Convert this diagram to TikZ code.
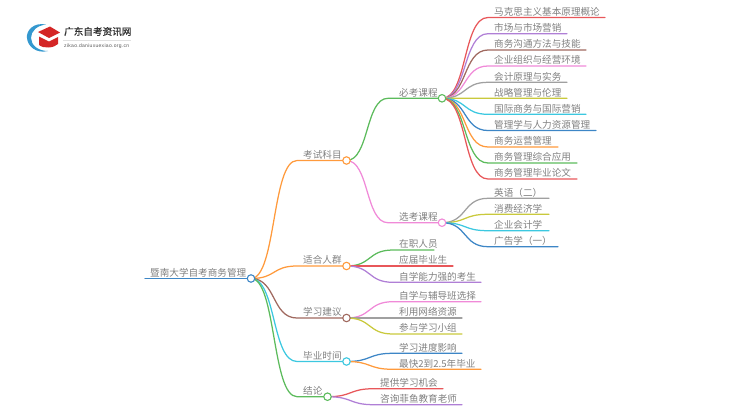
\documentclass[tikz,border=0pt]{standalone}
\usepackage{fontspec}
\setmainfont{Noto Sans CJK SC}
\newfontfamily\latinfont{Liberation Sans}
\usetikzlibrary{backgrounds,calc}
\definecolor{cRed}{HTML}{E8575A}
\definecolor{cPurple}{HTML}{B07FD6}
\definecolor{cBrown}{HTML}{A0695F}
\definecolor{cPink}{HTML}{F08AD8}
\definecolor{cGray}{HTML}{A0A0A0}
\definecolor{cOlive}{HTML}{C9C93C}
\definecolor{cCyan}{HTML}{3CC8E0}
\definecolor{cBlue}{HTML}{3D86C6}
\definecolor{cOrange}{HTML}{FF9A3C}
\definecolor{cGreen}{HTML}{5CBB5C}
\definecolor{cText}{HTML}{808080}
\tikzset{
  x=1pt,y=-1pt,
  label text/.style={text=cText,font=\fontsize{9.6pt}{11pt}\selectfont,inner sep=0pt,anchor=base west},
  junction/.style={circle,draw=#1,fill=white,line width=1.1pt,minimum size=7.5pt,inner sep=0pt},
  conn/.style={draw=#1,line width=1.25pt,line cap=round},
}
% #1 name, #2 parent, #3 curve end x, #4 line end x, #5 y, #6 colour, #7 text x, #8 text
\newcommand{\leafnode}[8]{%
  \node[label text] (#1) at (#7,#5-2.2) {#8};
  \coordinate (#1s) at (#3,#5);
  \coordinate (#1e) at (#4,#5);
  \begin{scope}[on background layer]
    \path[conn=#6] (#2.center) .. controls ($(#2.center)!0.55!(#2.center -| #1s)$) and ($(#1s)!0.55!(#1s -| #2.center)$) .. (#1s) -- (#1e);
  \end{scope}
}
\begin{document}
\begin{tikzpicture}
\useasboundingbox (0,0) rectangle (750,410);

% logo
\fill[cBlue!85!cyan] (46,24.5) .. controls (33,22) and (26,31) .. (27,38) .. controls (27.5,46) and (36,54) .. (48,51) .. controls (38,51) and (31,45) .. (31,38) .. controls (31,31) and (37,25.5) .. (46,24.5) -- cycle;
\fill[red!80!black!85] (38,32) -- (50,26.5) -- (60,32.5) -- (49,38) -- cycle;
\fill[red!80!black!85] (39,36.5) -- (49,41.5) -- (58,37) -- (58,44) .. controls (54,48) and (44,49) .. (39,45) -- cycle;
\node[inner sep=0pt,anchor=west,text=black!80,font=\fontsize{9.6pt}{11pt}\selectfont] (logotitle) at (64,31.5) {\addfontfeatures{FakeBold=1}广东自考资讯网};
\draw[black!12,line width=.5pt] (63,40.5) -- (131,40.5);
\node[inner sep=0pt,anchor=west,text=black!65,font=\latinfont\fontsize{5pt}{6pt}\selectfont] (logosub) at (64,46.5) {\addfontfeatures{LetterSpace=6}zikao.daniuxuexiao.org.cn};

% junctions
\node[junction=cBlue]   (root) at (251,278.5) {};
\node[junction=cOrange] (a1) at (346.5,160.5) {};
\node[junction=cOrange] (a2) at (346.5,266) {};
\node[junction=cBrown]  (a3) at (346.5,318) {};
\node[junction=cCyan]   (a4) at (346.5,361.5) {};
\node[junction=cGreen]  (a5) at (327.5,396.7) {};
\node[junction=cGreen]  (b1) at (442,98.3) {};
\node[junction=cPink]   (b2) at (442,222.7) {};

% root label
\node[label text] (rootlabel) at (150,276.3) {暨南大学自考商务管理};
\coordinate (rootstart) at (145,278.5);
\begin{scope}[on background layer]
  \draw[conn=cBlue] (rootstart) -- (root.center);
\end{scope}

% first level
\leafnode{t1}{root}{297}{346.5}{160.5}{cOrange}{303}{考试科目}
\leafnode{t2}{root}{297}{346.5}{266}{cOrange}{303}{适合人群}
\leafnode{t3}{root}{297}{346.5}{318}{cBrown}{303}{学习建议}
\leafnode{t4}{root}{297}{346.5}{361.5}{cCyan}{303}{毕业时间}
\leafnode{t5}{root}{297}{327.5}{396.7}{cGreen}{303}{结论}
\leafnode{s1}{a1}{388}{442}{98.3}{cGreen}{399}{必考课程}
\leafnode{s2}{a1}{388}{442}{222.7}{cPink}{399}{选考课程}

% required courses
\leafnode{m1}{b1}{488}{605}{17.5}{cRed}{494}{马克思主义基本原理概论}
\leafnode{m2}{b1}{488}{567}{33.7}{cPurple}{494}{市场与市场营销}
\leafnode{m3}{b1}{488}{586}{50}{cBrown}{494}{商务沟通方法与技能}
\leafnode{m4}{b1}{488}{586}{66}{cPink}{494}{企业组织与经营环境}
\leafnode{m5}{b1}{488}{567}{82.3}{cGray}{494}{会计原理与实务}
\leafnode{m6}{b1}{488}{567}{98.3}{cOlive}{494}{战略管理与伦理}
\leafnode{m7}{b1}{488}{586}{114.3}{cCyan}{494}{国际商务与国际营销}
\leafnode{m8}{b1}{488}{596}{130.5}{cBlue}{494}{管理学与人力资源管理}
\leafnode{m9}{b1}{488}{558}{147}{cOrange}{494}{商务运营管理}
\leafnode{m10}{b1}{488}{577}{163}{cGreen}{494}{商务管理综合应用}
\leafnode{m11}{b1}{488}{577}{179}{cRed}{494}{商务管理毕业论文}

% optional courses
\leafnode{o1}{b2}{488}{549}{198.3}{cGray}{494}{英语（二）}
\leafnode{o2}{b2}{488}{549}{214.3}{cOlive}{494}{消费经济学}
\leafnode{o3}{b2}{488}{549}{230.7}{cCyan}{494}{企业会计学}
\leafnode{o4}{b2}{488}{558}{246.7}{cBlue}{494}{广告学（一）}

% audience
\leafnode{p1}{a2}{393}{434}{250}{cGreen}{399}{在职人员}
\leafnode{p2}{a2}{393}{453}{266}{cRed}{399}{应届毕业生}
\leafnode{p3}{a2}{393}{481}{282.3}{cPurple}{399}{自学能力强的考生}

% advice
\leafnode{q1}{a3}{393}{481}{301.7}{cPink}{399}{自学与辅导班选择}
\leafnode{q2}{a3}{393}{462}{318}{cGray}{399}{利用网络资源}
\leafnode{q3}{a3}{393}{462}{334}{cOlive}{399}{参与学习小组}

% time
\leafnode{r1}{a4}{393}{462}{353.3}{cBlue}{399}{学习进度影响}
\leafnode{r2}{a4}{393}{481}{369.3}{cOrange}{399}{最快2到2.5年毕业}

% conclusion
\leafnode{u1}{a5}{374}{443}{388.7}{cRed}{380}{提供学习机会}
\leafnode{u2}{a5}{374}{462}{404.7}{cPurple}{380}{咨询菲鱼教育老师}
\end{tikzpicture}
\end{document}
